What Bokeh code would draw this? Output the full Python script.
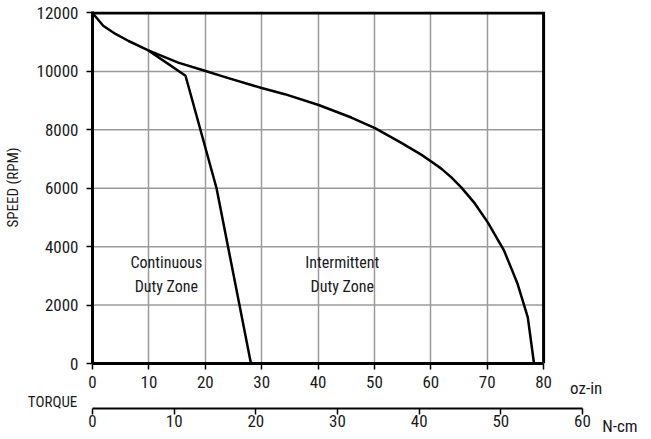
from bokeh.plotting import figure
from bokeh.models import Range1d, LinearAxis, FixedTicker, Label
from bokeh.core.properties import value
from bokeh.embed import file_html
from bokeh.resources import INLINE

# ---- data ----
oz_ticks = [0, 10, 20, 30, 40, 50, 60, 70, 80]
ncm_ticks = [0, 10, 20, 30, 40, 50, 60]
speed_ticks = [0, 2000, 4000, 6000, 8000, 10000, 12000]

intermittent_torque = [0, 1.9, 4.0, 6.4, 9.9, 15.2, 19.9, 24.1, 30.0, 34.1, 40.1, 45.9,
                       50.1, 54.7, 58.3, 60.2, 61.8, 63.6, 65.4, 67.8, 70.1, 73.0, 75.4, 77.2, 78.3]
intermittent_speed = [12000, 11560, 11290, 11040, 10720, 10300, 10020, 9770, 9430, 9220, 8850, 8420,
                      8060, 7560, 7150, 6900, 6680, 6380, 6030, 5480, 4830, 3860, 2720, 1580, 0]

continuous_torque = [9.9, 16.5, 22.0, 28.1]
continuous_speed = [10720, 9850, 6000, 0]

zone_torque = [13.1, 13.1, 44.3, 44.3]
zone_speed = [3450, 2650, 3450, 2650]
zone_text = ["Continuous", "Duty Zone", "Intermittent", "Duty Zone"]

unit_text = ["oz-in", "N-cm"]
unit_torque = [84.7, 90.4]
unit_speed = [-824, -2146]

torque_label = "TORQUE"
torque_label_pos = (-2.7, -1305)

# ---- layout ----
FONT = "Roboto Condensed, DejaVu Sans Condensed, Liberation Sans"
TXT = "#1a1a1a"
OZ_VIEW_MAX = 86.9     # frame right edge in oz-in (= 60 N-cm on the lower scale)
SPEED_VIEW_MAX = 12050

p = figure(width=651, height=439, output_backend="svg", toolbar_location=None,
           x_range=Range1d(0, OZ_VIEW_MAX), y_range=Range1d(0, SPEED_VIEW_MAX),
           min_border_left=91, min_border_right=69, min_border_top=11, min_border_bottom=76)
p.outline_line_color = None
p.extra_x_ranges = {"ncm": Range1d(0, ncm_ticks[-1])}

def style_axis(ax):
    ax.major_tick_out = 6
    ax.major_tick_in = 0
    ax.minor_tick_line_color = None
    ax.major_tick_line_color = "black"
    ax.major_tick_line_width = 1.5
    ax.major_label_text_font = FONT
    ax.major_label_text_font_size = "17px"
    ax.major_label_text_color = TXT

xa = p.xaxis[0]
xa.ticker = FixedTicker(ticks=oz_ticks)
style_axis(xa)
xa.bounds = (oz_ticks[0], oz_ticks[-1])
xa.axis_line_width = 3
xa.axis_line_color = "black"
xa.major_label_standoff = 6

ya = p.yaxis[0]
ya.ticker = FixedTicker(ticks=speed_ticks)
style_axis(ya)
ya.axis_line_width = 3
ya.axis_line_color = "black"
ya.major_label_standoff = 8
ya.axis_label = "SPEED (RPM)"
ya.axis_label_text_font = FONT
ya.axis_label_text_font_size = "15px"
ya.axis_label_text_font_style = "normal"
ya.axis_label_text_color = TXT
ya.axis_label_standoff = 12

na = LinearAxis(x_range_name="ncm", ticker=FixedTicker(ticks=ncm_ticks))
style_axis(na)
na.axis_line_width = 2
na.axis_line_color = "black"
na.major_label_standoff = 0

torque = Label(x=torque_label_pos[0], y=torque_label_pos[1], text=torque_label, text_align="right",
               text_baseline="middle", text_font=FONT, text_font_size="15px", text_color=TXT)
p.below = [xa, torque, na]

for t, xx, yy in zip(unit_text, unit_torque, unit_speed):
    p.add_layout(Label(x=xx, y=yy, text=t, text_align="left", text_baseline="middle",
                       text_font=FONT, text_font_size="17px", text_color=TXT), "right")

# grid
p.xgrid.ticker = FixedTicker(ticks=oz_ticks[1:-1])
p.xgrid.grid_line_color = "#9a9a9a"
p.xgrid.grid_line_width = 1.5
p.ygrid.visible = False
inner = speed_ticks[1:-1]
p.segment(x0=[oz_ticks[0]] * len(inner), y0=inner, x1=[oz_ticks[-1]] * len(inner), y1=inner,
          line_color="#9a9a9a", line_width=1.5)

# curves
p.line(intermittent_torque, intermittent_speed, line_color="black", line_width=2.5, line_join="round")
p.line(continuous_torque, continuous_speed, line_color="black", line_width=2.5)

# top and right border of the chart box
p.line(x=[oz_ticks[0], oz_ticks[-1], oz_ticks[-1]], y=[speed_ticks[-1], speed_ticks[-1], speed_ticks[0]],
       line_color="black", line_width=3, line_join="miter")

# zone texts
p.text(x=zone_torque, y=zone_speed, text=zone_text, text_align="center", text_baseline="middle",
       text_font=value(FONT), text_font_size="16px", text_color=TXT)

open("out.html", "w").write(file_html(p, INLINE))
